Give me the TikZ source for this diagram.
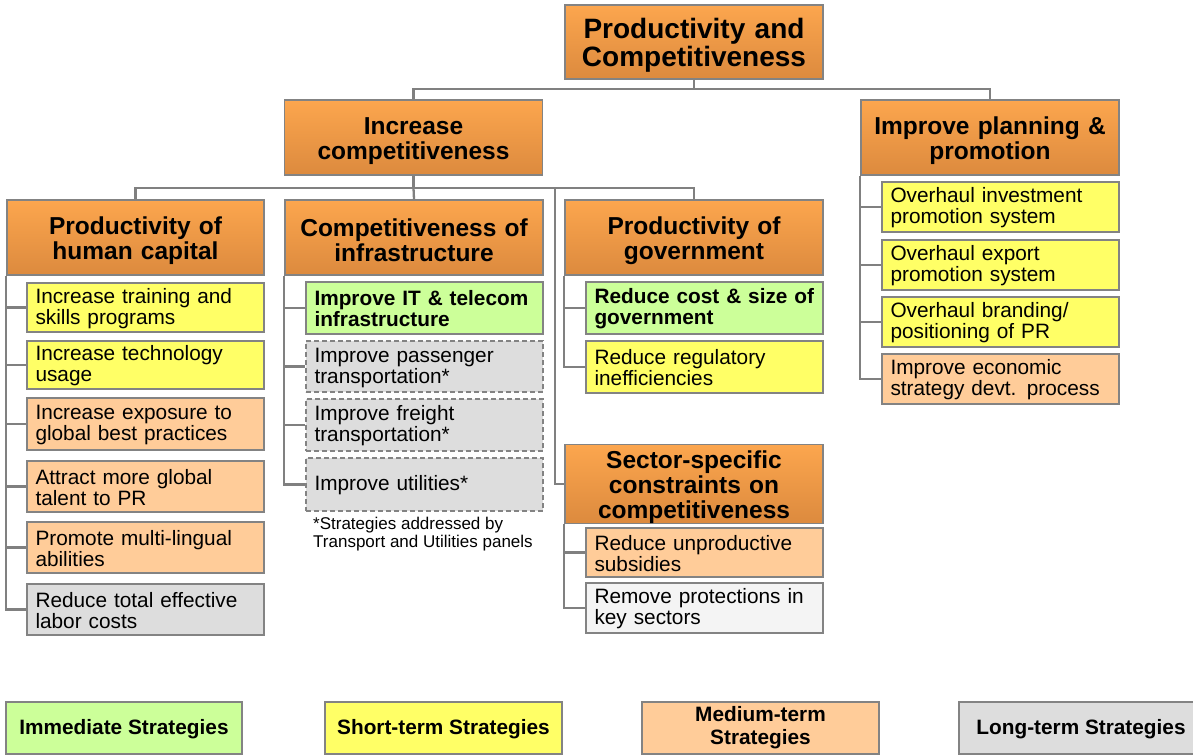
\documentclass[tikz,border=0pt]{standalone}
\usepackage{fontspec}
\setmainfont{Liberation Sans}
\definecolor{orgtop}{HTML}{FCA64E}
\definecolor{orgbot}{HTML}{DC8A3E}
\definecolor{immc}{HTML}{CCFF99}
\definecolor{shortc}{HTML}{FFFF66}
\definecolor{medc}{HTML}{FFCC99}
\definecolor{longc}{HTML}{DDDDDD}
\definecolor{palec}{HTML}{F4F4F4}
\definecolor{bordc}{HTML}{838383}
\definecolor{linec}{HTML}{808080}
\newcommand{\lowerfirst}[1]{\rule{0pt}{#1}}
\tikzset{
  head/.style={draw=bordc, line width=1.6pt, top color=orgtop, bottom color=orgbot,
    minimum width=258pt, minimum height=75pt, text width=250pt, inner sep=0pt,
    align=center, font=\bfseries\fontsize{24.5pt}{25pt}\selectfont,
    execute at begin node=\lowerfirst{24pt}},
  tophead/.style={head, minimum height=74pt, font=\bfseries\fontsize{28pt}{28.5pt}\selectfont,
    execute at begin node=\lowerfirst{27pt}},
  item/.style={draw=bordc, line width=1.5pt, text width=220pt, inner xsep=8.5pt,
    inner ysep=0pt, align=left, font=\fontsize{20.8pt}{21pt}\selectfont,
    execute at begin node=\lowerfirst{17pt}},
  bolditem/.style={item, font=\bfseries\fontsize{20.8pt}{21pt}\selectfont},
  future/.style={item, dashed, dash pattern=on 5pt off 3pt, line width=2pt},
  legendbox/.style={draw=bordc, line width=1.5pt, minimum height=52pt, inner sep=0pt,
    align=center, font=\bfseries\fontsize{20.8pt}{23pt}\selectfont,
    execute at begin node=\lowerfirst{18pt}},
  conn/.style={draw=linec, line width=2.3pt},
}
\begin{document}
\begin{tikzpicture}[x=1pt, y=-1pt]
\useasboundingbox[fill=white] (0,0) rectangle (1193,755);

% --- top levels ---
\node[tophead] (top) at (694,42) {Productivity and\\Competitiveness};
\node[head] (inc) at (413.5,137.5) {Increase\\competitiveness};
\node[head] (plan) at (990,137.5) {Improve planning \&\\promotion};

\node[head, minimum width=257pt] (human) at (135.5,237.5) {Productivity of\\human capital};
\node[head] (infra) at (414,237.5) {Competitiveness of\\infrastructure};
\node[head] (gov) at (694,237.5) {Productivity of\\government};
\node[head, minimum height=76pt] (sector) at (694,484) {Sector-specific\\constraints on\\competitiveness};

% --- human capital strategies ---
\node[item, fill=shortc, minimum height=49pt] (h1) at (145.5,307.5) {Increase training and\\skills programs};
\node[item, fill=shortc, minimum height=48pt] (h2) at (145.5,365) {Increase technology\\usage};
\node[item, fill=medc, minimum height=52pt] (h3) at (145.5,424) {Increase exposure to\\global best practices};
\node[item, fill=medc, minimum height=51pt] (h4) at (145.5,486.5) {Attract more global\\talent to PR};
\node[item, fill=medc, minimum height=51pt] (h5) at (145.5,547.5) {Promote multi-lingual\\abilities};
\node[item, fill=longc, minimum height=51pt] (h6) at (145.5,609.5) {Reduce total effective\\labor costs};

% --- infrastructure strategies ---
\node[bolditem, fill=immc, minimum height=52pt] (i1) at (424.5,308) {Improve IT \& telecom\\infrastructure};
\node[future, fill=longc, minimum height=51pt] (i2) at (424.5,366.5) {Improve passenger\\transportation*};
\node[future, fill=longc, minimum height=52pt] (i3) at (424.5,425) {Improve freight\\transportation*};
\node[future, fill=longc, minimum height=53pt] (i4) at (424.5,484.5) {Improve utilities*};
\node[anchor=north west, inner sep=0pt, align=left,
  font=\fontsize{17pt}{17.5pt}\selectfont] (note) at (313,517)
  {*Strategies addressed by\\Transport and Utilities panels};

% --- government strategies ---
\node[bolditem, fill=immc, minimum height=52pt] (g1) at (704.5,308) {Reduce cost \& size of\\government};
\node[item, fill=shortc, minimum height=52pt] (g2) at (704.5,367) {Reduce regulatory\\inefficiencies};

% --- sector-specific strategies ---
\node[item, fill=medc, minimum height=49pt] (s1) at (704.5,552.5) {Reduce unproductive\\subsidies};
\node[item, fill=palec, minimum height=50pt] (s2) at (704.5,608) {Remove protections in\\key sectors};

% --- planning strategies ---
\node[item, fill=shortc, minimum height=50pt] (p1) at (1000.5,207) {Overhaul investment\\promotion system};
\node[item, fill=shortc, minimum height=50pt] (p2) at (1000.5,265) {Overhaul export\\promotion system};
\node[item, fill=shortc, minimum height=50pt] (p3) at (1000.5,322) {Overhaul branding/\\positioning of PR};
\node[item, fill=medc, minimum height=50pt] (p4) at (1000.5,379) {Improve economic\\strategy devt. process};

% --- legend ---
\node[legendbox, fill=immc, minimum width=236pt] (lg1) at (124,728) {Immediate Strategies};
\node[legendbox, fill=shortc, minimum width=237pt] (lg2) at (443.5,728) {Short-term Strategies};
\node[legendbox, fill=medc, minimum width=237pt, execute at begin node=\lowerfirst{23pt}]
  (lg3) at (760.5,728) {Medium-term\\Strategies};
\node[legendbox, fill=longc, minimum width=244pt] (lg4) at (1081,728) {Long-term Strategies};

% --- connectors ---
\coordinate (bus1) at (694,89);
\coordinate (bus2) at (413.5,188);
\coordinate (drop) at (555,188);
\draw[conn] (top.south) -- (bus1) -| (inc.north);
\draw[conn] (bus1) -| (plan.north);
\draw[conn] (inc.south) -- (bus2) -| (human.north);
\draw[conn] (bus2) -| (gov.north);
\draw[conn] (bus2) -- (infra.north);
\draw[conn] (drop) |- (sector.west);

\foreach \c in {h1,h2,h3,h4,h5,h6} \draw[conn] (human.south west) |- (\c.west);
\foreach \c in {i1,i2,i3,i4} \draw[conn] (infra.south west) |- (\c.west);
\foreach \c in {g1,g2} \draw[conn] (gov.south west) |- (\c.west);
\foreach \c in {s1,s2} \draw[conn] (sector.south west) |- (\c.west);
\foreach \c in {p1,p2,p3,p4} \draw[conn] (plan.south west) |- (\c.west);
\end{tikzpicture}
\end{document}
